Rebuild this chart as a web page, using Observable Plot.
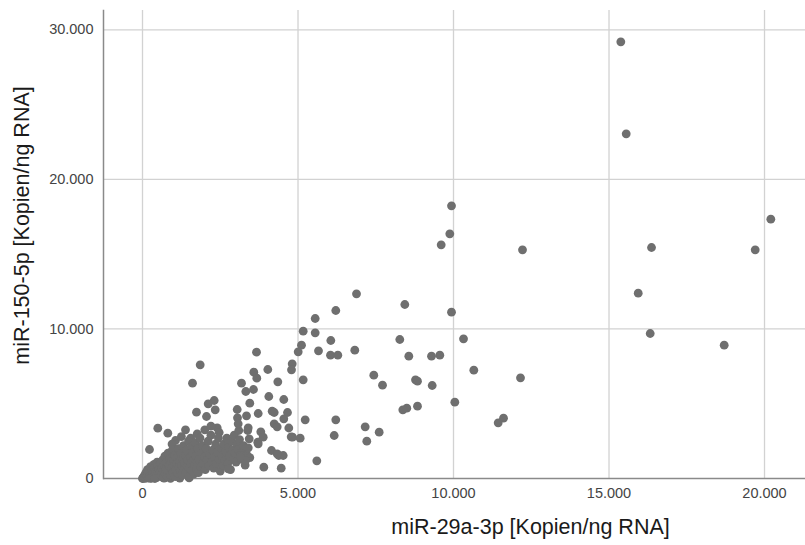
<!DOCTYPE html>
<html>
<head>
<meta charset="utf-8">
<script src="https://cdn.jsdelivr.net/npm/d3@7"></script>
<script src="https://cdn.jsdelivr.net/npm/@observablehq/plot@0.6"></script>
<style>
  html, body { margin: 0; padding: 0; background: #fff; }
  #chart svg { display: block; font-family: "Liberation Sans", Arial, sans-serif; }
</style>
</head>
<body>
<div id="chart"></div>
<script>
// Axis titles and ticks
const xTitle = "miR-29a-3p [Kopien/ng RNA]";
const yTitle = "miR-150-5p [Kopien/ng RNA]";
const xTicks = [0, 5000, 10000, 15000, 20000];
const yTicks = [0, 10000, 20000, 30000];

// [miR-29a-3p, miR-150-5p] in copies/ng RNA
const highOutliers = [
  [15380, 29197], [15553, 23046], [16367, 15444], [15939, 12389], [16325, 9694],
  [18704, 8913], [19701, 15290], [20203, 17338], [9936, 18232], [9881, 16360],
  [9604, 15624], [12219, 15290], [9936, 11120], [10322, 9340], [9560, 8244],
  [9293, 8177], [10653, 7241], [12154, 6732], [9315, 6218], [10042, 5104],
  [11608, 4032], [11437, 3724]
];
const midRange = [
  [6881, 12348], [8434, 11633], [6215, 11232], [5553, 10697], [5167, 9848],
  [5553, 9741], [6055, 9226], [8273, 9293], [5113, 8913], [5006, 8470],
  [5659, 8538], [6045, 8244], [6280, 8244], [6826, 8578], [8563, 8177],
  [7437, 6906], [7717, 6238], [5167, 6599], [8778, 6599], [8842, 6505],
  [8842, 4836], [8498, 4700], [8370, 4593], [5231, 3925], [6215, 3925],
  [5070, 2696], [6164, 2875], [7160, 3455], [7610, 3098], [7212, 2496],
  [5605, 1183],
  [3666, 8447], [4029, 7288], [3579, 7110], [3675, 6707], [3183, 6372],
  [4351, 6465], [3322, 5817], [3569, 5951], [4061, 5482], [4543, 5282],
  [3450, 5035], [3045, 4613], [3720, 4346], [4170, 4500], [4235, 4413],
  [4662, 4413], [3344, 4192], [4543, 3991], [3055, 4058], [4235, 3657],
  [4331, 3455], [4781, 2788], [3804, 3122], [3096, 3209], [3383, 3209],
  [3431, 2654], [3708, 2427], [3151, 1538], [3312, 1203], [4148, 1872],
  [4383, 1538], [4524, 1538], [2756, 648], [3900, 756], [4460, 689],
  [4813, 7668], [4791, 7268], [4704, 3376], [4823, 2763], [3720, 2320],
  [3881, 2761], [3077, 3657], [3399, 3390], [3151, 1424], [4331, 1651]
];
const lowCluster = [
  [1855, 7600], [1608, 6372], [2305, 5215], [2112, 4994], [2338, 4593],
  [1736, 4433], [2058, 4145], [492, 3363], [814, 3029], [1383, 3256],
  [2003, 3256], [2402, 3389], [225, 1939], [1061, 2541], [2466, 3076],
  [1759, 2989], [1250, 2800], [1550, 2700], [950, 2300], [2200, 3500],
  [0, 0], [10, 20], [30, 60], [50, 150], [60, 10], [80, 250], [100, 90],
  [110, 400], [130, 30], [150, 180], [160, 600], [180, 320], [200, 50],
  [220, 480], [240, 150], [260, 800], [280, 260], [300, 30], [310, 550],
  [330, 380], [350, 120], [370, 950], [390, 700], [410, 220], [430, 480],
  [450, 60], [470, 1100], [490, 320], [510, 820], [530, 600], [550, 170],
  [570, 420], [590, 1000], [250, 10], [400, 0], [700, 20], [900, 10],
  [1200, 30], [1500, 40],
  [610, 250], [630, 700], [650, 1250], [660, 50], [680, 480], [700, 900],
  [720, 1500], [740, 330], [760, 650], [780, 1100], [800, 150], [820, 1700],
  [840, 520], [860, 880], [880, 1300], [900, 250], [920, 1050], [940, 700],
  [960, 1900], [980, 400], [1000, 1200], [1020, 850], [1040, 1550], [1060, 120],
  [1080, 600], [1100, 1000], [1120, 1400], [1140, 350], [1160, 2000], [1180, 780],
  [1200, 1150],
  [1220, 500], [1240, 1700], [1260, 900], [1280, 250], [1300, 1300], [1320, 2200],
  [1340, 650], [1360, 1050], [1380, 1600], [1400, 400], [1420, 1900], [1440, 850],
  [1460, 1250], [1480, 2500], [1500, 150], [1520, 700], [1540, 1450], [1560, 1000],
  [1580, 2100], [1600, 550], [1620, 1750], [1640, 1200], [1660, 300], [1680, 900],
  [1700, 2400], [1720, 1500], [1740, 650], [1760, 1100], [1780, 2000], [1800, 400],
  [1820, 1300], [1850, 2700], [1870, 800], [1900, 1700], [1930, 2200], [1960, 1000],
  [1990, 1450], [2020, 600], [2050, 2000], [2080, 1250], [2110, 2500], [2140, 850],
  [2170, 1600], [2200, 2900], [2230, 1100], [2260, 1900], [2290, 700], [2320, 1400],
  [2350, 2300], [2380, 1000], [2410, 1750], [2440, 2700], [2470, 1250], [2500, 500],
  [2530, 2000], [2560, 1500], [2590, 900],
  [2620, 2300], [2650, 1200], [2680, 1800], [2710, 2700], [2740, 1000], [2770, 2100],
  [2800, 1500], [2830, 600], [2860, 2500], [2890, 1900], [2920, 1300], [2950, 2900],
  [2980, 1700], [3010, 1100], [3040, 2300], [3080, 1950], [3120, 2600], [3160, 1300],
  [3200, 1750], [3250, 2200], [3300, 900], [3350, 1600], [3400, 2050], [3450, 1400]
];

const points = [...lowCluster, ...midRange, ...highOutliers].map(([x, y]) => ({x, y}));

const de = d3.formatLocale({decimal: ",", thousands: ".", grouping: [3], currency: ["", " €"]});
const fmt = de.format(",d");

const chart = Plot.plot({
  width: 805,
  height: 545,
  marginLeft: 103,
  marginRight: 0,
  marginTop: 10,
  marginBottom: 67,
  style: {fontFamily: "'Liberation Sans', Arial, sans-serif", background: "#fff"},
  x: {domain: [-1254, 21318], label: null},
  y: {domain: [0, 31290], label: null},
  marks: [
    Plot.gridX(xTicks, {stroke: "#d2d2d2", strokeOpacity: 1, strokeWidth: 1.3}),
    Plot.gridY(yTicks.filter(d => d > 0), {stroke: "#d2d2d2", strokeOpacity: 1, strokeWidth: 1.3}),
    Plot.axisX(xTicks, {tickSize: 0, tickPadding: 9, tickFormat: fmt, fontSize: 14.5, fill: "#444", label: null}),
    Plot.axisY(yTicks, {tickSize: 0, tickPadding: 10, tickFormat: fmt, fontSize: 14.5, fill: "#444", label: null}),
    Plot.ruleY([0], {stroke: "#8a8a8a", strokeWidth: 1.5}),
    Plot.frame({anchor: "left", stroke: "#8a8a8a", strokeWidth: 1.5}),
    Plot.dot(points, {x: "x", y: "y", r: 4.4, fill: "#6f6f6f", stroke: "none"}),
    Plot.text([xTitle], {frameAnchor: "bottom", textAnchor: "middle", dx: 76, dy: 55, text: d => d, fontSize: 21.5, fill: "#1a1a1a"}),
    Plot.text([yTitle], {frameAnchor: "left", textAnchor: "middle", rotate: -90, dx: -81, dy: -19, text: d => d, fontSize: 21.5, fill: "#1a1a1a"})
  ]
});
document.getElementById("chart").appendChild(chart);
</script>
</body>
</html>
